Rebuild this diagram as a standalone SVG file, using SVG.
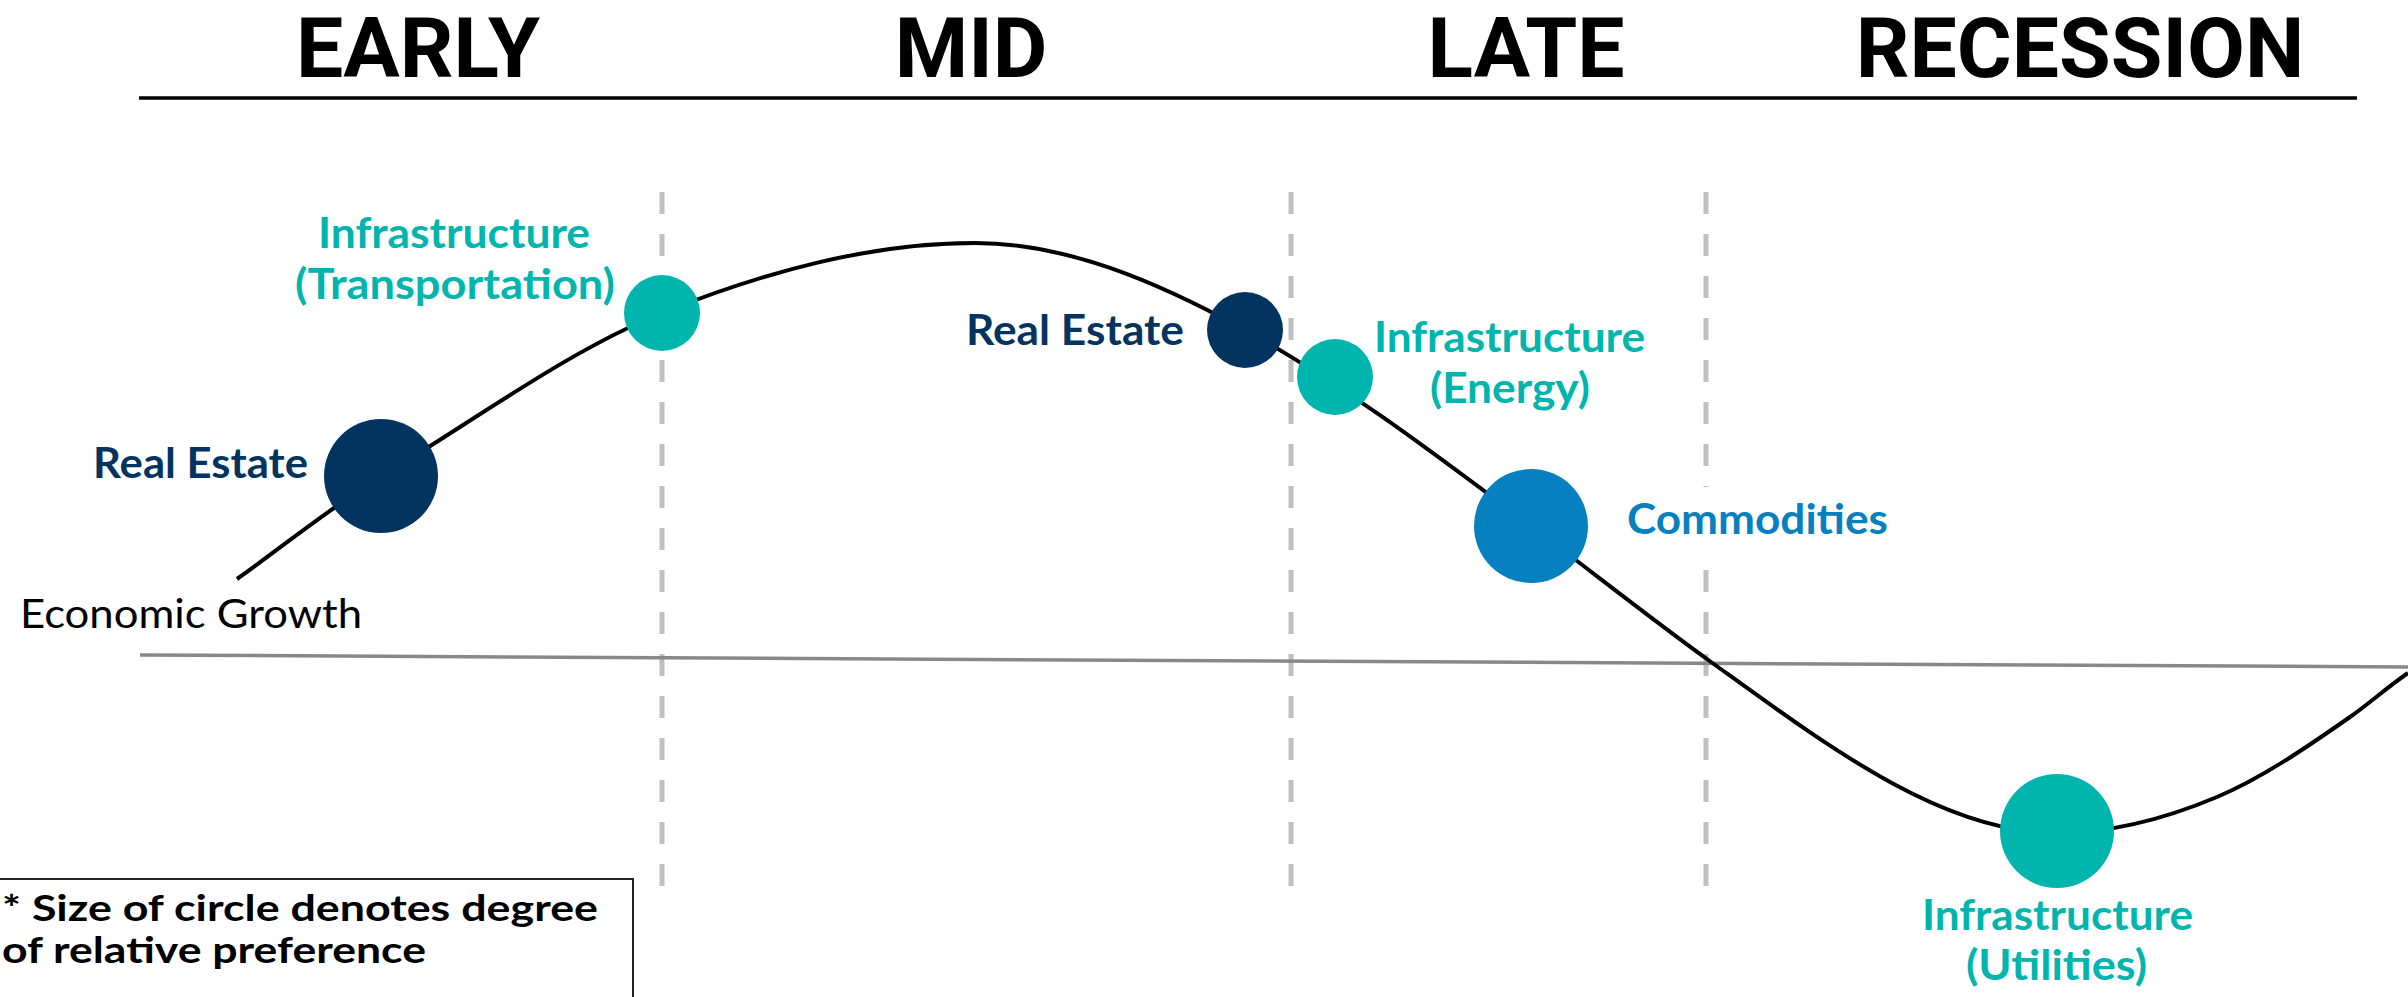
<svg xmlns="http://www.w3.org/2000/svg" width="2408" height="997" viewBox="0 0 2408 997">
  <style>
    .title { font-family: Roboto, "Liberation Sans", sans-serif; font-weight: 700; font-size: 84px; fill: #000; text-anchor: middle; }
    .lbl { font-family: Lato, "Liberation Sans", sans-serif; font-weight: 700; font-size: 42px; }
    .teal { fill: #00B5AD; }
    .navy { fill: #03345F; }
    .blue { fill: #0780BF; }
    .divider { stroke: #BFBFBF; stroke-width: 5; stroke-dasharray: 22 20; fill: none; }
    .note { font-family: Lato, "Liberation Sans", sans-serif; font-weight: 700; font-size: 37px; fill: #000; }
  </style>

  <rect width="2408" height="997" fill="#fff"/>

  <!-- phase headings -->
  <g id="headings">
    <text class="title" x="418" y="77">EARLY</text>
    <text class="title" x="971" y="77">MID</text>
    <text class="title" x="1526" y="77">LATE</text>
    <text class="title" x="2080" y="77">RECESSION</text>
    <line x1="139" y1="98" x2="2357" y2="98" stroke="#000" stroke-width="3.5"/>
  </g>

  <!-- phase dividers -->
  <g id="dividers">
    <line class="divider" x1="662" y1="192" x2="662" y2="888"/>
    <line class="divider" x1="1291" y1="192" x2="1291" y2="888"/>
    <line class="divider" x1="1706" y1="192" x2="1706" y2="888"/>
  </g>

  <!-- growth axis and cycle curve -->
  <g id="connectors">
    <line x1="140" y1="655" x2="2408" y2="667" stroke="#888" stroke-width="3.5"/>
    <path d="M237,579 C285.3,544.7 333.7,505 382,476 C475.3,420 568.7,350.3 662,313 C766.3,271.3 870.7,243 975,243 C1065,243 1155,280.5 1245,330 C1340.3,382.4 1435.7,454.5 1531,526 C1591,571 1651,618.8 1711,662 C1826.3,745 1941.7,833 2057,833 C2110.3,833 2163.7,819.4 2217,797 C2261.3,778.4 2305.7,748 2350,717 C2369.3,703.5 2388.7,686.1 2408,673" fill="none" stroke="#000" stroke-width="4"/>
  </g>

  <g id="axis-label">
    <text x="20" y="628" font-family="Lato, 'Liberation Sans', sans-serif" font-size="40" fill="#000" textLength="342" lengthAdjust="spacingAndGlyphs">Economic Growth</text>
  </g>

  <g id="real-estate-early">
    <circle class="navy" cx="381" cy="476" r="57"/>
    <text class="lbl navy" x="93" y="478" textLength="215" lengthAdjust="spacingAndGlyphs">Real Estate</text>
  </g>

  <g id="infra-transportation">
    <circle class="teal" cx="662" cy="313" r="38"/>
    <text class="lbl teal" x="318" y="248" textLength="272" lengthAdjust="spacingAndGlyphs">Infrastructure</text>
    <text class="lbl teal" x="295" y="299" textLength="320" lengthAdjust="spacingAndGlyphs">(Transportation)</text>
  </g>

  <g id="real-estate-mid">
    <circle class="navy" cx="1245" cy="330" r="38"/>
    <text class="lbl navy" x="966" y="345" textLength="218" lengthAdjust="spacingAndGlyphs">Real Estate</text>
  </g>

  <g id="infra-energy">
    <circle class="teal" cx="1335" cy="377" r="38"/>
    <text class="lbl teal" x="1374" y="352" textLength="271" lengthAdjust="spacingAndGlyphs">Infrastructure</text>
    <text class="lbl teal" x="1430" y="403" textLength="160" lengthAdjust="spacingAndGlyphs">(Energy)</text>
  </g>

  <g id="commodities">
    <circle class="blue" cx="1531" cy="526" r="57"/>
    <rect x="1696" y="487" width="200" height="81" fill="#fff"/>
    <text class="lbl blue" x="1627" y="534" textLength="261" lengthAdjust="spacingAndGlyphs">Commodities</text>
  </g>

  <g id="infra-utilities">
    <circle class="teal" cx="2057" cy="831" r="57"/>
    <text class="lbl teal" x="1922" y="930" textLength="271" lengthAdjust="spacingAndGlyphs">Infrastructure</text>
    <text class="lbl teal" x="1966" y="980" textLength="181" lengthAdjust="spacingAndGlyphs">(Utilities)</text>
  </g>

  <g id="legend">
    <rect x="-3" y="879" width="636" height="130" fill="#fff" stroke="#222" stroke-width="2"/>
    <text class="note" x="2" y="921" textLength="596" lengthAdjust="spacingAndGlyphs">* Size of circle denotes degree</text>
    <text class="note" x="2" y="963" textLength="424" lengthAdjust="spacingAndGlyphs">of relative preference</text>
  </g>
</svg>
